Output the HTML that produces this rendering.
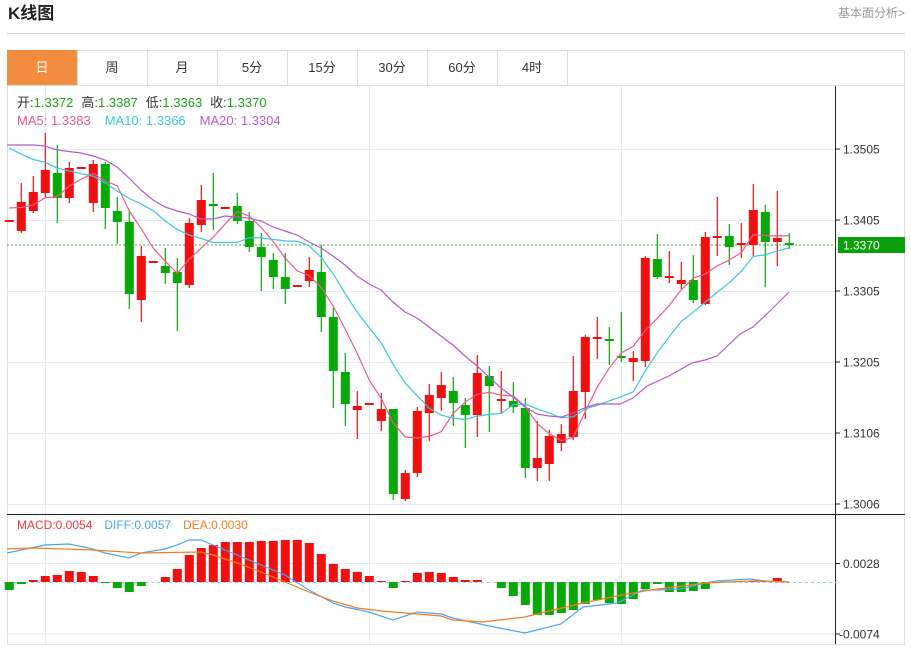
<!DOCTYPE html>
<html><head><meta charset="utf-8"><style>
body{margin:0;width:911px;height:645px;background:#fff;overflow:hidden;font-family:"Liberation Sans","Noto Sans CJK SC",sans-serif;}
</style></head><body>
<svg id="s" width="911" height="645" xmlns="http://www.w3.org/2000/svg" font-family="Liberation Sans, Noto Sans CJK SC, sans-serif">
<text x="8" y="19" font-size="17" font-weight="bold" fill="#222">K线图</text>
<text x="905" y="17" font-size="12" fill="#999" text-anchor="end">基本面分析&gt;</text>
<line x1="7" y1="33.5" x2="905" y2="33.5" stroke="#d0d0d0"/>
<rect x="7.5" y="50.5" width="897" height="594" fill="none" stroke="#ddd"/>
<line x1="7" y1="85.5" x2="905" y2="85.5" stroke="#ddd"/>
<rect x="7" y="50" width="70" height="35" fill="#f28c3f"/>
<g id="tabs" font-size="13" text-anchor="middle" fill="#333"></g>
<g id="grid"></g>
<g id="cd"></g>
<g id="ln"></g>
<text x="17" y="107" font-size="13"><tspan fill="#333">开:</tspan><tspan fill="#1aa31a">1.3372</tspan><tspan fill="#333" dx="8">高:</tspan><tspan fill="#1aa31a">1.3387</tspan><tspan fill="#333" dx="8">低:</tspan><tspan fill="#1aa31a">1.3363</tspan><tspan fill="#333" dx="8">收:</tspan><tspan fill="#1aa31a">1.3370</tspan></text>
<text x="17" y="125" font-size="13"><tspan fill="#ef5a8a">MA5: 1.3383</tspan><tspan fill="#3cc6de" dx="14">MA10: 1.3366</tspan><tspan fill="#b45ccc" dx="14">MA20: 1.3304</tspan></text>
<text x="17" y="529" font-size="12"><tspan fill="#f03c3c">MACD:0.0054</tspan><tspan fill="#4aa8ee" dx="12">DIFF:0.0057</tspan><tspan fill="#f57c20" dx="12">DEA:0.0030</tspan></text>
</svg>
<script>
const NS="http://www.w3.org/2000/svg";
function el(g,t,a){const e=document.createElementNS(NS,t);for(const k in a)e.setAttribute(k,a[k]);document.getElementById(g).appendChild(e);return e;}
const tabs=["日","周","月","5分","15分","30分","60分","4时"];
tabs.forEach((t,i)=>{const x=7+70*i;el("tabs","text",{x:x+35,y:72,fill:i?"#333":"#fff"}).textContent=t;if(i>0)el("tabs","line",{x1:x+0.5,y1:50,x2:x+0.5,y2:85,stroke:"#ddd"});});
el("tabs","line",{x1:567.5,y1:50,x2:567.5,y2:85,stroke:"#ddd"});
// grid
[149,220,291,362,433,504].forEach(y=>el("grid","line",{x1:7,y1:y+.5,x2:836,y2:y+.5,stroke:"#e3eaf0"}));
[563.5,634].forEach(y=>el("grid","line",{x1:7,y1:y,x2:836,y2:y,stroke:"#e3eaf0"}));
[45,369,621].forEach(x=>el("grid","line",{x1:x+.5,y1:86,x2:x+.5,y2:644,stroke:"#e3eaf0"}));
el("grid","line",{x1:7,y1:514.5,x2:905,y2:514.5,stroke:"#222"});
el("grid","line",{x1:835.5,y1:86,x2:835.5,y2:644,stroke:"#222"});
const labs=[[149,"1.3505"],[220,"1.3405"],[291,"1.3305"],[362,"1.3205"],[433,"1.3106"],[504,"1.3006"],[563.5,"0.0028"],[634,"-0.0074"]];
labs.forEach(([y,t])=>{el("grid","line",{x1:836,y1:y,x2:840,y2:y,stroke:"#222"});el("grid","text",{x:t[0]=="-"?839:843,y:y+4.5,"font-size":12,fill:"#333"}).textContent=t;});
el("grid","line",{x1:7,y1:582.5,x2:836,y2:582.5,stroke:"#9cd0e8","stroke-dasharray":"3,3"});
el("grid","line",{x1:7,y1:245,x2:836,y2:245,stroke:"#3cac3c","stroke-dasharray":"2,2"});
el("grid","rect",{x:838,y:237,width:67,height:16,fill:"#0aa00a"});
el("grid","text",{x:843,y:249.5,"font-size":12,fill:"#fff"}).textContent="1.3370";
// candles: [type(r/g), bodyTop, bodyBot, wickTop, wickBot]
const C=[["r",220,222,220,222],["r",202,231,183,233],["r",192,211,176,213],["r",170,193,133,198],["g",173,198,145,223],["r",168,198,162,203],["r",167,169,167,169],["r",164,203,160,212],["g",164,208,162,229],["g",211,222,197,244],["g",222,294,211,309],["r",256,300,246,322],["r",261,263,261,263],["g",266,273,248,284],["g",272,283,258,331],["r",223,285,218,288],["r",200,225,185,232],["g",204,206,173,230],["r",207,209,207,209],["g",206,221,193,224],["g",221,247,212,252],["g",247,257,233,291],["g",260,277,253,289],["g",277,289,253,304],["r",285,287,285,287],["r",270,281,257,287],["g",272,317,245,332],["g",317,371,308,408],["g",372,404,353,426],["r",406,410,391,439],["r",403,405,403,405],["r",409,421,393,431],["g",409,494,409,500],["r",473,499,470,501],["r",411,473,407,477],["r",395,413,384,441],["r",385,398,372,411],["g",391,403,377,426],["g",405,415,398,448],["r",373,415,355,437],["g",376,386,366,432],["r",399,401,371,413],["g",401,407,382,413],["g",408,468,398,478],["r",458,468,421,481],["r",436,464,430,481],["r",434,443,424,451],["r",391,437,356,440],["r",337,392,335,419],["r",337,339,317,359],["g",339,341,327,365],["g",356,358,312,362],["r",358,362,351,381],["r",258,361,256,367],["g",259,277,234,279],["r",276,278,251,283],["r",280,284,262,289],["g",280,300,255,303],["r",237,304,232,305],["r",236,238,197,256],["g",236,247,224,265],["r",243,245,223,258],["r",210,245,184,256],["g",212,242,205,287],["r",238,242,191,266],["g",243,245,233,249]];
const X=i=>9.3+12*i;
C.forEach((c,i)=>{const col=c[0]=="r"?"#f01010":"#08a808";const x=X(i);
el("cd","line",{x1:x,y1:c[3],x2:x,y2:c[4],stroke:col,"stroke-width":1.2});
el("cd","rect",{x:x-4.5,y:c[1],width:9,height:Math.max(2,c[2]-c[1]),fill:col});});
// MACD hist tops
const H=[590,584,580,576,575,571,572,576,583,588,592,586,582,577,569,555,548,545,542,542,542,541,541,540,540,543,554,564,569,572,576,581,588,581,573,572,573,577,580,580,582,588,596,605,615,615,613,610,604,600,603,604,599,589,584,592,592,591,589,583,582,582,581,581,578,582];
H.forEach((h,i)=>{const z=582;if(Math.abs(h-z)<1)return;const col=h<z?"#f01010":"#08a808";el("cd","rect",{x:X(i)-4.5,y:Math.min(h,z),width:9,height:Math.abs(h-z),fill:col});});
// MA lines from closes
const cl=C.map(c=>c[0]=="r"?c[1]:c[2]);
function ma(n,pad){const a=[];for(let i=0;i<cl.length;i++){let s=0;for(let k=i-n+1;k<=i;k++)s+=k>=0?cl[k]:pad;a.push(s/n);}return a;}
const m5=ma(5,205),m10=ma(10,140);
function pl(arr,col){el("ln","polyline",{points:arr.map((v,i)=>X(i)+","+v.toFixed(1)).join(" "),fill:"none",stroke:col,"stroke-width":1.2});}
pl(m5,"#ef5a8a");pl(m10,"#3cc6de");
function pp(pts,col){el("ln","polyline",{points:pts.map(p=>p.join(",")).join(" "),fill:"none",stroke:col,"stroke-width":1.2});}
pp([[7,145],[33,145],[45,146],[57,150],[81,153],[93,156],[105,160],[117,167],[129,178],[141,190],[153,200],[165,207],[177,211],[189,214],[201,219],[213,219],[225,216],[237,217],[249,218],[261,221],[273,227],[285,231],[297,235],[309,242],[321,248],[333,256],[345,265],[357,276],[369,284],[381,290],[393,302],[405,312],[417,318],[429,327],[441,336],[453,345],[465,356],[477,366],[489,377],[501,388],[513,397],[525,407],[537,414],[549,416],[562,417],[573,413],[587,407],[597,404],[620,404],[633,398],[647,386],[669,376],[692,363],[705,360],[717,356],[740,334],[753,327],[771,310],[789,292]],"#b45ccc");
pp([[7,553],[45,545],[69,544],[93,549],[105,553],[129,558],[141,553],[165,549],[177,545],[189,540],[201,540],[213,545],[237,555],[261,565],[285,575],[309,590],[333,603],[345,607],[369,612],[393,620],[417,612],[441,614],[453,618],[489,626],[525,633],[561,624],[583,607],[617,603],[643,590],[657,590],[681,589],[697,585],[705,583],[717,581],[750,579],[765,581],[789,582]],"#4aa8ee");
pp([[7,549],[33,548],[93,550],[141,553],[201,552],[213,555],[237,563],[261,572],[285,582],[309,592],[333,601],[357,608],[381,611],[417,614],[441,616],[453,620],[483,622],[525,617],[553,610],[583,603],[617,596],[650,590],[683,586],[705,583],[753,581],[789,582]],"#f57c20");
</script>
</body></html>
